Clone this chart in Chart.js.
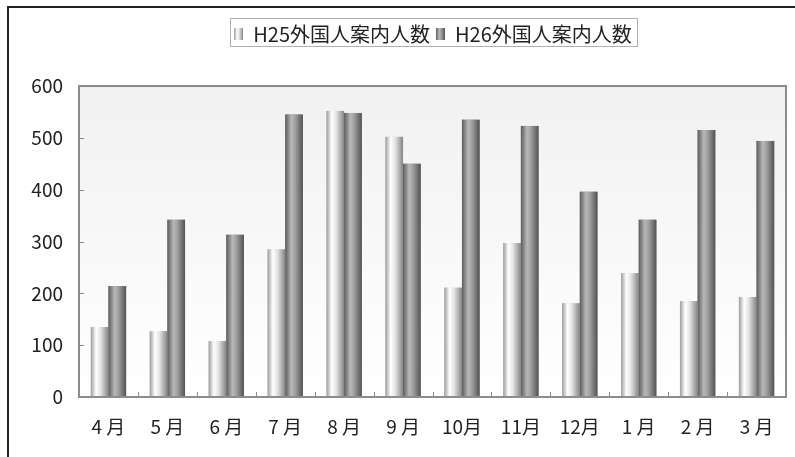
<!DOCTYPE html>
<html>
<head>
<meta charset="utf-8">
<script src="https://cdn.jsdelivr.net/npm/chart.js@4.4.1/dist/chart.umd.min.js"></script>
<style>
  html, body { margin: 0; padding: 0; background: #fff; overflow: hidden; }
  #wrap { position: relative; width: 795px; height: 457px; }
  #frame { position: absolute; left: 7px; top: 6px; width: 810px; height: 480px; border: 2px solid #222; box-sizing: border-box; pointer-events: none; }
  canvas { position: absolute; left: 0; top: 0; }
</style>
</head>
<body>
<div id="wrap">
  <canvas id="chart" width="795" height="457"></canvas>
  <div id="frame"></div>
</div>
<script>
const months = ["4 月", "5 月", "6 月", "7 月", "8 月", "9 月", "10月", "11月", "12月", "1 月", "2 月", "3 月"]
const h25 = [135, 127, 108, 285, 552, 502, 211, 297, 181, 239, 185, 193]
const h26 = [214, 342, 313, 545, 548, 450, 535, 523, 396, 342, 515, 494]
const seriesNames = ["H25外国人案内人数", "H26外国人案内人数"]
const yTicks = [0, 100, 200, 300, 400, 500, 600]

const FONT = "'Noto Sans CJK JP', 'Noto Sans', sans-serif"
const PAD_TOP = 18
const PLOT_TOP = 86
const LEGEND_SHIFT = 40

// cylinder-like shading for each series
const shades = [
    [[0, "#9c9c9c"], [0.3, "#ffffff"], [0.55, "#e4e4e4"], [1, "#858585"]],
    [[0, "#5c5c5c"], [0.35, "#b8b8b8"], [0.55, "#a2a2a2"], [1, "#535353"]]
]

function makeShade(ctx, x0, x1, stops){
    const g = ctx.createLinearGradient(x0, 0, x1, 0)
    stops.forEach(s => g.addColorStop(s[0], s[1]))
    return g
}

function legendIcon(stops){
    const c = document.createElement("canvas")
    c.width = 9
    c.height = 12
    const cx = c.getContext("2d")
    cx.fillStyle = makeShade(cx, 0, 9, stops)
    cx.fillRect(0, 0, 9, 12)
    return c
}
const icons = shades.map(legendIcon)

const plotDeco = {
    id: "plotDeco",
    afterInit(chart){
        const lg = chart.legend
        const fit = lg.fit.bind(lg)
        lg.fit = function(){
            fit()
            this.height = PLOT_TOP - PAD_TOP
        }
    },
    afterLayout(chart){
        chart.legend.left += LEGEND_SHIFT
        chart.legend.right += LEGEND_SHIFT
    },
    beforeDatasetsDraw(chart){
        const {ctx, chartArea: a, scales} = chart
        ctx.save()
        const bg = ctx.createLinearGradient(0, a.top, 0, a.bottom)
        bg.addColorStop(0, "#f1f1f1")
        bg.addColorStop(1, "#ffffff")
        ctx.fillStyle = bg
        ctx.fillRect(a.left, a.top, a.right - a.left, a.bottom - a.top)

        // small inner tick marks
        ctx.strokeStyle = "#8a8a8a"
        ctx.lineWidth = 1
        ctx.beginPath()
        yTicks.slice(1, -1).forEach(v => {
            const y = Math.round(scales.y.getPixelForValue(v)) + 0.5
            ctx.moveTo(a.left, y)
            ctx.lineTo(a.left + 5, y)
        })
        const step = (a.right - a.left) / months.length
        for (let i = 1; i < months.length; i++){
            const x = Math.round(a.left + step * i) + 0.5
            ctx.moveTo(x, a.bottom)
            ctx.lineTo(x, a.bottom - 5)
        }
        ctx.stroke()
        ctx.restore()
    },
    afterDatasetsDraw(chart){
        const {ctx, chartArea: a} = chart
        ctx.save()
        chart.data.datasets.forEach((ds, i) => {
            const meta = chart.getDatasetMeta(i)
            meta.data.forEach(bar => {
                const p = bar.getProps(["x", "y", "base", "width"], true)
                const x0 = p.x - p.width / 2
                ctx.fillStyle = makeShade(ctx, x0, x0 + p.width, shades[i])
                ctx.fillRect(x0, p.y, p.width, p.base - p.y)
            })
        })
        ctx.strokeStyle = "#8c8c8c"
        ctx.lineWidth = 2
        ctx.strokeRect(a.left, a.top, a.right - a.left, a.bottom - a.top)
        ctx.restore()
    },
    afterDraw(chart){
        const boxes = chart.legend.legendHitBoxes
        if (!boxes || !boxes.length) return
        const l = Math.min(...boxes.map(b => b.left)) - 4
        const r = Math.max(...boxes.map(b => b.left + b.width)) + 5
        const t = Math.min(...boxes.map(b => b.top)) - 6
        const btm = Math.max(...boxes.map(b => b.top + b.height)) + 2
        const ctx = chart.ctx
        ctx.save()
        ctx.strokeStyle = "#b0b0b0"
        ctx.lineWidth = 1
        ctx.strokeRect(Math.round(l) + 0.5, Math.round(t) + 0.5, Math.round(r - l), Math.round(btm - t))
        ctx.restore()
    }
}

new Chart(document.getElementById("chart"), {
    type: "bar",
    data: {
        labels: months,
        datasets: [
            { label: seriesNames[0], data: h25, backgroundColor: "#d8d8d8" },
            { label: seriesNames[1], data: h26, backgroundColor: "#8c8c8c" }
        ]
    },
    options: {
        responsive: false,
        animation: false,
        events: [],
        layout: { padding: { top: PAD_TOP, right: 9, bottom: 0, left: 0 } },
        datasets: { bar: { categoryPercentage: 0.6, barPercentage: 1.0 } },
        plugins: {
            tooltip: { enabled: false },
            legend: {
                position: "top",
                labels: {
                    usePointStyle: true,
                    pointStyleWidth: 9,
                    padding: 6,
                    color: "#222",
                    font: { family: FONT, size: 20 },
                    generateLabels: chart => chart.data.datasets.map((ds, i) => ({
                        text: ds.label,
                        pointStyle: icons[i],
                        fillStyle: "#999",
                        strokeStyle: "transparent",
                        lineWidth: 0,
                        fontColor: "#222",
                        datasetIndex: i
                    }))
                }
            }
        },
        scales: {
            x: {
                grid: { display: false, drawTicks: false },
                border: { display: false },
                ticks: { color: "#222", font: { family: FONT, size: 19 }, padding: 18, maxRotation: 0, autoSkip: false },
                afterFit: s => { s.height = 60 }
            },
            y: {
                min: 0,
                max: 600,
                grid: { display: false, drawTicks: false },
                border: { display: false },
                ticks: { stepSize: 100, color: "#222", font: { family: FONT, size: 19 }, padding: 16 },
                afterFit: s => { s.width = 79 }
            }
        }
    },
    plugins: [plotDeco]
})
</script>
</body>
</html>
